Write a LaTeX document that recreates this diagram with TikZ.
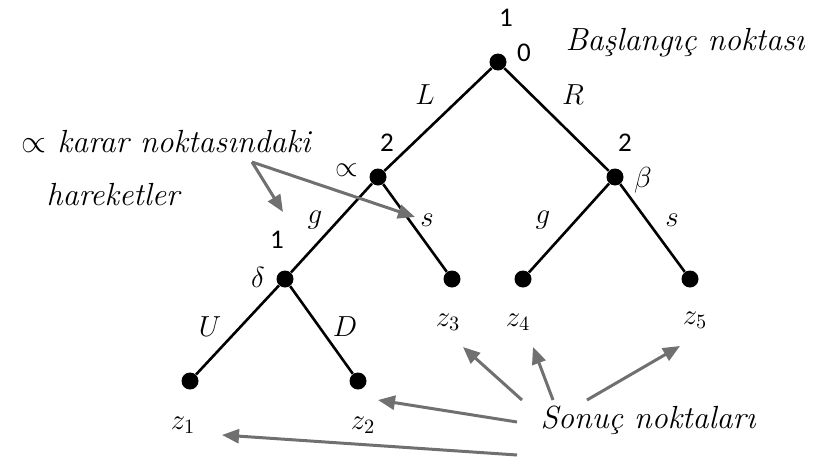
\RequirePackage{fix-cm}
\documentclass[tikz,border=0pt]{standalone}
\usepackage{fontspec}
\newfontfamily\numfont{Carlito}
\usetikzlibrary{arrows.meta,positioning}
\definecolor{arrgray}{RGB}{112,112,112}

\begin{document}
\begin{tikzpicture}[x=0.5pt,y=-0.5pt,
  every node/.style={font=\fontsize{14.5}{16}\selectfont},
  dot/.style={circle,fill=black,inner sep=0pt,minimum size=8.5pt},
  edge/.style={line width=1.3pt},
  num/.style={font=\numfont\fontsize{13.5}{15}\selectfont},
  note/.style={font=\fontsize{16}{18}\selectfont\itshape\addfontfeatures{LetterSpace=#1}},
  note/.default=15,
  pointer/.style={draw=arrgray,line width=1.5pt,-{Triangle[length=8.5pt,width=7pt]}}]
\useasboundingbox (0,0) rectangle (821,461);
% decision and end points
\node[dot] (n0) at (498,62) {};
\node[dot] (na) at (378,177) {};
\node[dot] (nb) at (615,177) {};
\node[dot] (nd) at (285,279) {};
\node[dot] (e3) at (452,279) {};
\node[dot] (e4) at (523,279) {};
\node[dot] (e5) at (690,279) {};
\node[dot] (e1) at (190,381) {};
\node[dot] (e2) at (358,381) {};
\draw[edge] (n0)--(na); \draw[edge] (n0)--(nb);
\draw[edge] (na)--(nd); \draw[edge] (na)--(e3);
\draw[edge] (nb)--(e4); \draw[edge] (nb)--(e5);
\draw[edge] (nd)--(e1); \draw[edge] (nd)--(e2);
% player and node labels
\node[num] (p0) at (506,18) {1};
\node[num] (n0lab) at (524,53) {0};
\node[num] (pa) at (387,143) {2};
\node[num] (pb) at (625,143) {2};
\node[num] (pd) at (277,240) {1};
\node (alab) at (347,170) {$\propto$};
\node (blab) at (643,180) {$\beta$};
\node (dlab) at (258,277) {$\delta$};
\node[note=20] (start) at (685,43) {Başlangıç noktası};
% actions
\node (aL) at (425,95) {$L$};
\node (aR) at (573,95) {$R$};
\node (ag1) at (315,220) {$g$};
\node (as1) at (427,220) {$s$};
\node (ag2) at (543,220) {$g$};
\node (as2) at (672,220) {$s$};
\node (aU) at (210,327) {$U$};
\node (aD) at (345,327) {$D$};
% outcomes
\node (z1) at (183,425) {$z_1$};
\node (z2) at (363,425) {$z_2$};
\node (z3) at (448,322) {$z_3$};
\node (z4) at (518,322) {$z_4$};
\node (z5) at (695,320) {$z_5$};
% notes
\node[note=26] (moves) at (166,142) {$\propto$ karar noktasındaki};
\node[note=12] (moves2) at (113,195) {hareketler};
\node[note=18] (ends) at (648,420) {Sonuç noktaları};
\coordinate (mv) at (252,162);
\coordinate (mvg) at (283,212);
\coordinate (mvs) at (415,217);
\draw[pointer] (mv)--(mvg);
\draw[pointer] (mv)--(mvs);
\coordinate (t1) at (517,455); \coordinate (h1) at (222,435);
\coordinate (t2) at (517,422); \coordinate (h2) at (378,400);
\coordinate (t3) at (522,400); \coordinate (h3) at (463,347);
\coordinate (t4) at (553,400); \coordinate (h4) at (533,347);
\coordinate (t5) at (587,400); \coordinate (h5) at (680,346);
\draw[pointer] (t1)--(h1);
\draw[pointer] (t2)--(h2);
\draw[pointer] (t3)--(h3);
\draw[pointer] (t4)--(h4);
\draw[pointer] (t5)--(h5);
\end{tikzpicture}
\end{document}
